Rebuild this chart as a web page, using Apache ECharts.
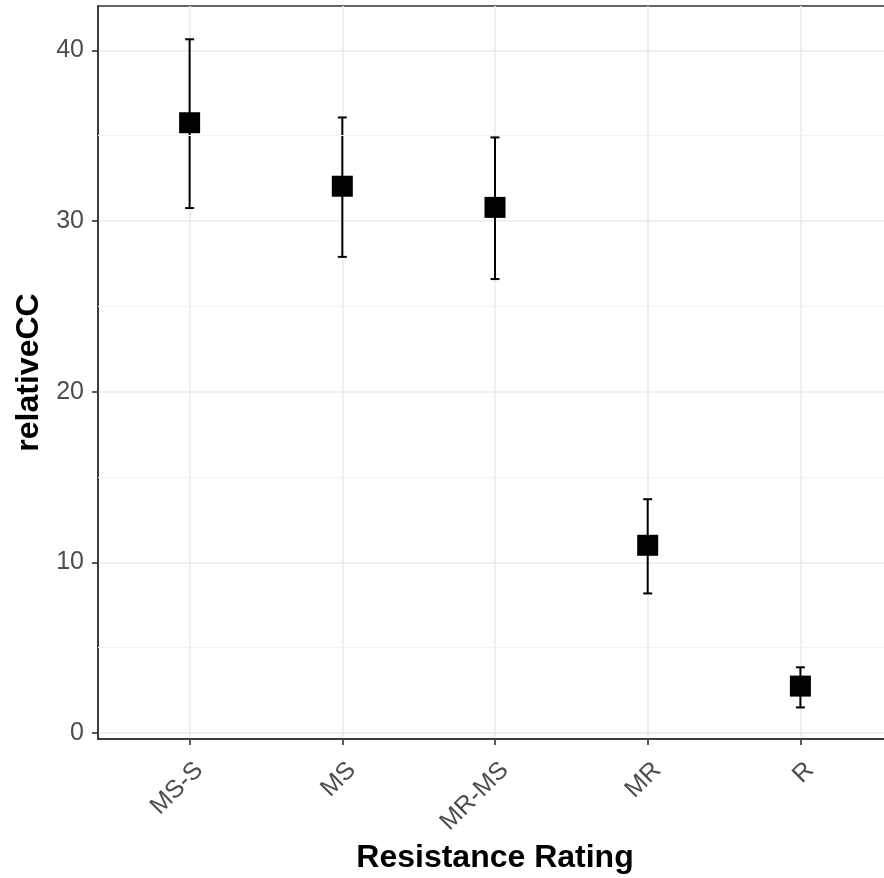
<!DOCTYPE html>
<html>
<head>
<meta charset="utf-8">
<script src="https://cdn.jsdelivr.net/npm/echarts@6/dist/echarts.min.js"></script>
<style>
html,body{margin:0;padding:0;background:#fff;}
#chart{width:884px;height:878px;}
</style>
</head>
<body>
<div id="chart"></div>
<script>
// ---- data ----
const categories = ['MS-S', 'MS', 'MR-MS', 'MR', 'R'];
const meanValues = [35.76, 32.04, 30.8, 11.0, 2.75];
const lowerValues = [30.76, 27.9, 26.6, 8.18, 1.5];
const upperValues = [40.65, 36.07, 34.9, 13.7, 3.85];
const yTicks = [0, 10, 20, 30, 40];
const yMinorLines = [5, 15, 25, 35];
const xTicks = [0, 1, 2, 3, 4];

const FONT = '"Liberation Sans", Arial, sans-serif';
const chart = echarts.init(document.getElementById('chart'));

const errData = categories.map((c, i) => [i, lowerValues[i], upperValues[i]]);
const ptData = categories.map((c, i) => [i, meanValues[i]]);

chart.setOption({
  animation: false,
  backgroundColor: '#ffffff',
  grid: {
    left: 98, top: 6, width: 794, height: 733,
    containLabel: false,
    outerBoundsMode: 'none',
    show: true, borderColor: '#333333', borderWidth: 1.6,
    backgroundColor: 'transparent'
  },
  xAxis: {
    type: 'value',
    min: -0.6, max: 4.6,
    name: 'Resistance Rating',
    nameLocation: 'middle',
    nameGap: 100,
    nameTextStyle: { fontFamily: FONT, fontSize: 32, fontWeight: 'bold', color: '#000' },
    axisLine: { show: true, onZero: false, lineStyle: { color: '#333333', width: 1.6 } },
    axisTick: { show: true, length: 6, customValues: xTicks, lineStyle: { color: '#333333', width: 1.6 } },
    axisLabel: {
      customValues: xTicks,
      rotate: 45, margin: 8,
      verticalAlign: 'top',
      padding: [8, 7, 0, 0],
      fontFamily: FONT, fontSize: 25, color: '#4D4D4D',
      formatter: v => categories[Math.round(v)] || ''
    },
    splitLine: { show: true, lineStyle: { color: '#EBEBEB', width: 1.6 } }
  },
  yAxis: {
    type: 'value',
    min: -0.35, max: 42.6,
    name: 'relativeCC',
    nameLocation: 'middle',
    nameGap: 48,
    nameTextStyle: { fontFamily: FONT, fontSize: 32, fontWeight: 'bold', color: '#000' },
    axisLine: { show: true, onZero: false, lineStyle: { color: '#333333', width: 1.6 } },
    axisTick: { show: true, length: 6, customValues: yTicks, lineStyle: { color: '#333333', width: 1.6 } },
    axisLabel: {
      customValues: yTicks,
      margin: 14,
      fontFamily: FONT, fontSize: 25, color: '#4D4D4D'
    },
    splitLine: { show: true, lineStyle: { color: '#EBEBEB', width: 1.6 } }
  },
  series: [
    {
      type: 'line',
      data: [],
      z: 1,
      silent: true,
      markLine: {
        silent: true,
        symbol: 'none',
        label: { show: false },
        lineStyle: { color: '#F2F2F2', width: 1, type: 'solid' },
        data: yMinorLines.map(v => ({ yAxis: v }))
      }
    },
    {
      type: 'custom',
      z: 3,
      data: errData,
      renderItem: function (params, api) {
        const x = api.value(0);
        const lo = api.coord([x, api.value(1)]);
        const hi = api.coord([x, api.value(2)]);
        const hw = 4.5;
        const style = { stroke: '#000', lineWidth: 2 };
        return {
          type: 'group',
          children: [
            { type: 'line', shape: { x1: lo[0], y1: lo[1], x2: hi[0], y2: hi[1] }, style: style },
            { type: 'line', shape: { x1: hi[0] - hw, y1: hi[1], x2: hi[0] + hw, y2: hi[1] }, style: style },
            { type: 'line', shape: { x1: lo[0] - hw, y1: lo[1], x2: lo[0] + hw, y2: lo[1] }, style: style }
          ]
        };
      }
    },
    {
      type: 'scatter',
      z: 4,
      symbol: 'rect',
      symbolSize: 21,
      itemStyle: { color: '#000', opacity: 1 },
      data: ptData
    }
  ]
});
</script>
</body>
</html>
